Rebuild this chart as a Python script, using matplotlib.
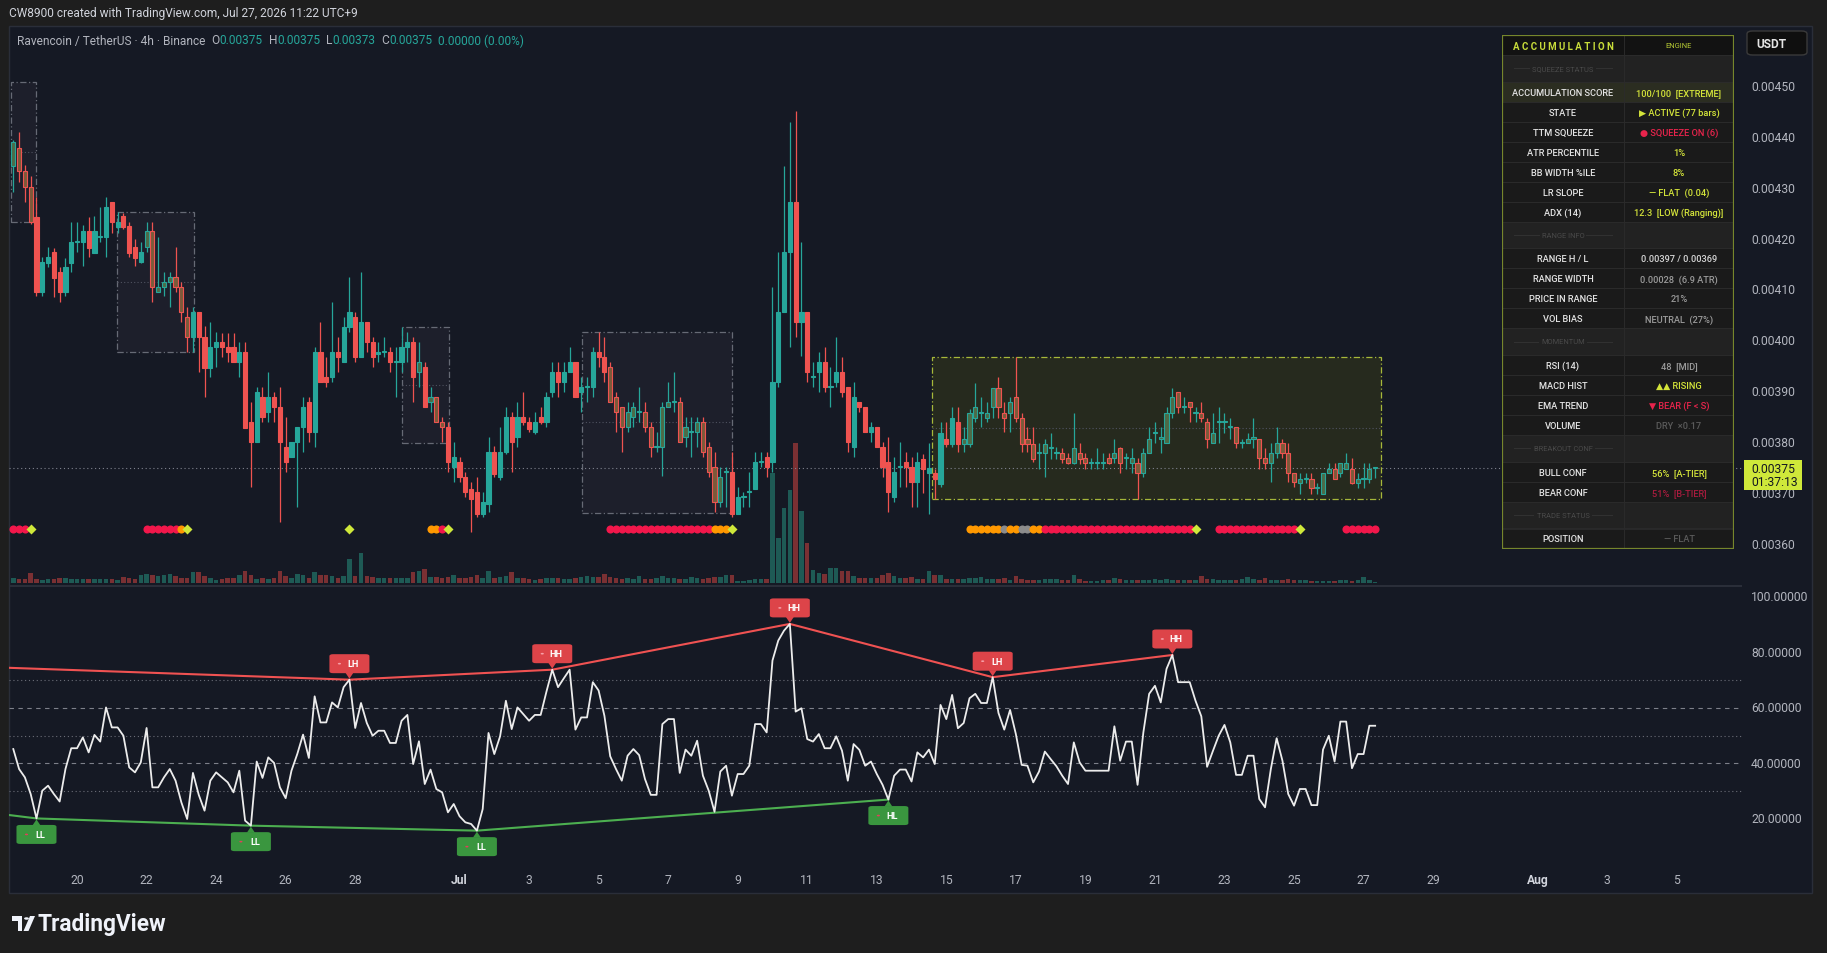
import matplotlib
matplotlib.use('Agg')
import numpy as np
import matplotlib.pyplot as plt
from matplotlib.patches import Rectangle, Polygon, Circle, FancyBboxPatch

plt.rcParams['font.family'] = ['Roboto', 'DejaVu Sans']

W, H = 1827, 954
BG = '#151924'
FIG_BG = '#1e1e1e'
TEAL = '#26a69a'
RED = '#ef5350'
LIME = '#d4e43a'
AXTXT = '#b2b5be'

# RVN/USDT 4h candles, prices in units of 0.00001 USDT (bar 1 = Jun 18 05:00)
opens = [434.3, 438.0, 433.3, 430.2, 424.4, 409.6, 415.3, 417.4, 413.5, 409.6,
         415.3, 419.4, 419.4, 421.5, 417.3, 420.4, 420.4, 427.2, 422.3, 424.5,
         422.5, 418.4, 415.5, 418.4, 421.5, 409.6, 410.5, 411.5, 412.5, 410.5,
         404.6, 400.7, 405.6, 400.7, 394.6, 398.8, 399.7, 398.8, 398.8, 395.8,
         397.8, 384.0, 380.1, 388.9, 386.0, 388.9, 387.0, 379.1, 377.1, 380.1,
         383.0, 388.0, 382.0, 397.8, 392.9, 392.9, 397.8, 395.8, 402.7, 404.6,
         396.8, 403.7, 399.7, 397.5, 397.8, 397.8, 395.8, 395.8, 398.8, 399.7,
         393.8, 394.8, 388.0, 389.0, 384.0, 383.0, 375.2, 376.2, 373.2, 370.9,
         370.3, 366.0, 368.0, 378.1, 373.2, 378.1, 385.0, 381.1, 385.0, 384.0,
         382.1, 385.0, 384.0, 389.9, 393.8, 391.9, 393.8, 395.8, 389.9, 390.9,
         390.9, 397.8, 396.8, 394.8, 388.9, 387.0, 383.0, 385.0, 386.0, 386.0,
         383.0, 379.1, 379.1, 387.0, 388.0, 388.0, 381.1, 382.1, 382.1, 384.0,
         379.1, 375.2, 368.3, 374.2, 374.2, 366.0, 369.3, 370.3, 370.9, 376.2,
         377.1, 376.2, 391.9, 405.6, 417.4, 427.2, 403.7, 405.6, 392.9, 393.8,
         395.8, 390.9, 391.9, 393.8, 390.9, 379.1, 388.0, 387.0, 382.1, 383.0,
         379.1, 376.2, 369.3, 375.2, 376.2, 375.2, 372.2, 376.8, 374.0, 374.0,
         371.8, 380.8, 379.7, 384.0, 379.7, 379.7, 384.9, 385.9, 384.9, 386.9,
         390.8, 385.9, 385.9, 388.9, 384.9, 380.8, 379.7, 377.9, 377.9, 378.9,
         377.9, 377.9, 376.9, 375.9, 377.9, 376.9, 375.9, 375.9, 375.9, 376.9,
         376.9, 378.9, 376.9, 375.9, 375.9, 374.0, 377.9, 381.9, 380.8, 379.9,
         385.9, 389.9, 386.9, 387.9, 385.9, 385.9, 384.0, 379.9, 384.0, 384.0,
         383.0, 383.0, 379.9, 379.9, 380.8, 380.8, 376.9, 375.9, 377.9, 379.9,
         377.9, 374.0, 372.0, 372.9, 372.9, 371.0, 369.9, 374.0, 374.9, 374.0,
         374.9, 374.9, 372.0, 372.9, 372.9, 375.0]
highs = [439.5, 441.1, 434.5, 432.5, 428.2, 416.4, 418.4, 418.3, 414.5, 416.3,
         423.3, 423.3, 422.8, 424.3, 424.6, 426.3, 428.2, 427.3, 425.3, 425.1,
         423.3, 420.0, 419.4, 423.3, 423.3, 420.4, 413.5, 413.5, 418.4, 411.5,
         406.6, 406.6, 405.6, 403.0, 403.7, 401.7, 401.6, 401.6, 401.6, 399.7,
         399.7, 388.0, 390.9, 390.9, 393.8, 389.9, 390.9, 385.0, 380.1, 383.0,
         388.9, 388.9, 398.8, 403.7, 396.8, 407.6, 400.7, 404.6, 412.5, 405.6,
         413.5, 403.7, 400.7, 399.7, 400.7, 398.8, 398.8, 402.7, 401.7, 400.7,
         399.7, 395.8, 390.9, 389.0, 385.0, 384.0, 380.1, 377.1, 374.2, 372.2,
         373.2, 370.3, 381.1, 379.4, 383.0, 387.0, 386.0, 388.0, 389.9, 385.0,
         386.0, 387.0, 389.9, 395.8, 395.8, 395.8, 398.8, 395.8, 392.9, 392.9,
         398.8, 401.7, 400.7, 395.8, 389.9, 387.0, 388.0, 388.0, 390.9, 388.0,
         384.0, 382.1, 388.0, 391.9, 393.8, 388.9, 385.0, 385.0, 385.0, 385.0,
         380.1, 378.1, 375.2, 375.2, 378.1, 371.2, 370.3, 374.2, 378.1, 378.1,
         378.1, 410.5, 417.4, 434.4, 443.0, 445.2, 419.4, 405.6, 395.8, 397.8,
         398.8, 394.8, 400.7, 396.8, 390.9, 391.9, 388.0, 387.0, 384.0, 383.0,
         380.1, 381.1, 377.1, 380.1, 378.1, 377.1, 378.1, 377.8, 380.0, 374.9,
         384.0, 384.0, 386.9, 386.9, 383.0, 386.6, 391.8, 388.9, 387.9, 390.8,
         392.8, 387.9, 388.9, 396.9, 385.9, 383.0, 383.0, 380.0, 380.8, 381.9,
         379.1, 378.9, 377.9, 385.9, 379.9, 377.9, 376.9, 378.9, 377.9, 377.9,
         380.8, 379.1, 377.9, 378.9, 376.9, 378.9, 383.0, 384.0, 383.0, 386.9,
         390.8, 389.9, 388.9, 387.9, 386.9, 387.9, 384.9, 385.9, 386.9, 385.9,
         384.9, 383.0, 380.8, 381.9, 384.9, 380.8, 378.9, 379.9, 383.0, 380.8,
         379.9, 374.0, 374.0, 374.0, 374.0, 372.0, 374.0, 375.9, 375.9, 375.9,
         377.9, 376.9, 374.0, 375.9, 375.9, 375.0]
lows = [429.3, 431.2, 427.2, 423.0, 408.8, 408.8, 414.5, 408.7, 407.6, 408.8,
        413.6, 417.4, 414.7, 416.4, 417.3, 419.4, 416.4, 421.3, 421.3, 422.0,
        416.4, 414.7, 415.4, 417.4, 407.6, 409.6, 408.8, 406.6, 409.6, 403.7,
        397.8, 397.8, 393.8, 388.9, 392.9, 394.8, 396.8, 395.8, 395.8, 392.9,
        382.9, 371.2, 380.1, 384.0, 384.0, 384.0, 364.4, 374.2, 377.1, 367.3,
        378.1, 380.1, 379.1, 391.9, 390.9, 391.9, 393.8, 395.8, 401.7, 395.8,
        396.8, 397.8, 394.8, 395.8, 396.8, 393.8, 388.9, 393.8, 395.8, 388.0,
        390.9, 387.0, 386.0, 384.0, 380.1, 374.2, 372.2, 372.2, 369.3, 362.4,
        365.4, 365.4, 366.3, 373.2, 372.6, 377.8, 374.2, 379.1, 383.4, 382.1,
        381.7, 383.7, 383.0, 388.9, 388.9, 389.9, 393.8, 388.9, 386.0, 388.0,
        388.9, 394.8, 391.9, 388.0, 382.1, 378.1, 382.1, 383.0, 384.0, 382.1,
        377.1, 378.1, 373.5, 387.0, 386.0, 380.1, 379.1, 377.1, 379.1, 377.1,
        373.2, 366.3, 367.3, 367.3, 365.4, 366.0, 367.3, 367.3, 370.9, 375.2,
        373.2, 374.2, 390.9, 405.6, 398.8, 400.7, 397.1, 391.9, 390.9, 389.9,
        389.9, 387.0, 390.9, 388.9, 378.1, 377.1, 386.0, 382.1, 380.1, 379.1,
        373.2, 366.3, 368.3, 371.2, 371.2, 367.3, 367.3, 370.0, 366.0, 368.9,
        371.2, 379.1, 379.1, 378.1, 378.1, 379.1, 384.0, 383.0, 384.0, 384.9,
        384.9, 382.0, 382.0, 384.0, 378.1, 378.1, 376.1, 374.9, 373.2, 376.8,
        376.8, 375.9, 375.8, 375.8, 375.8, 374.9, 374.9, 374.9, 374.9, 375.8,
        375.9, 374.0, 374.9, 374.0, 368.9, 373.2, 377.9, 379.9, 377.9, 379.9,
        384.9, 385.9, 385.9, 384.0, 384.0, 384.0, 378.9, 379.9, 379.9, 381.9,
        380.8, 378.9, 378.9, 379.9, 378.9, 374.9, 374.9, 372.2, 376.9, 376.9,
        372.2, 371.2, 369.9, 372.0, 369.9, 369.9, 369.9, 374.0, 372.9, 373.2,
        374.9, 371.8, 371.0, 371.0, 372.0, 373.0]
closes = [439.0, 433.3, 430.2, 423.3, 409.6, 415.5, 416.4, 412.4, 409.6, 414.5,
          419.4, 419.5, 421.5, 418.3, 421.5, 420.6, 426.3, 423.3, 423.3, 422.3,
          417.3, 416.3, 417.4, 421.5, 410.5, 410.5, 411.5, 412.5, 410.5, 405.6,
          400.7, 405.6, 400.7, 394.6, 398.8, 399.7, 398.8, 397.8, 395.8, 397.8,
          382.9, 380.1, 389.9, 385.0, 388.9, 387.0, 380.1, 376.2, 380.1, 383.0,
          387.0, 382.0, 397.8, 391.9, 391.9, 397.8, 396.8, 402.7, 405.6, 396.8,
          403.7, 399.7, 396.8, 397.8, 397.9, 395.8, 395.9, 398.8, 399.7, 392.9,
          395.8, 387.0, 389.0, 384.0, 383.0, 376.2, 377.1, 373.2, 370.3, 369.0,
          366.0, 368.3, 378.1, 373.9, 378.1, 385.0, 380.1, 385.0, 384.0, 382.7,
          384.0, 384.0, 388.9, 393.8, 391.9, 393.8, 395.8, 388.9, 390.9, 391.0,
          397.8, 396.8, 393.8, 388.0, 386.0, 383.0, 386.0, 387.0, 386.1, 383.0,
          379.1, 379.2, 387.0, 388.0, 388.1, 380.1, 383.0, 382.2, 384.0, 378.1,
          374.2, 368.3, 373.2, 374.3, 366.0, 369.3, 369.4, 370.4, 376.2, 376.3,
          375.2, 391.9, 405.6, 417.4, 427.2, 403.7, 405.6, 393.8, 393.0, 395.8,
          390.9, 391.0, 393.8, 389.9, 380.1, 388.9, 387.0, 382.1, 383.0, 379.1,
          375.2, 370.3, 374.2, 375.3, 375.2, 372.2, 376.2, 374.8, 375.0, 372.8,
          381.9, 379.7, 384.9, 379.7, 380.8, 385.9, 386.9, 386.0, 385.9, 390.8,
          386.9, 384.9, 387.9, 384.9, 379.7, 379.7, 376.8, 378.0, 379.7, 379.0,
          378.0, 376.8, 375.9, 378.9, 376.8, 375.9, 376.0, 376.0, 376.0, 375.9,
          377.9, 375.9, 377.0, 376.9, 374.0, 377.9, 380.8, 382.0, 380.9, 385.9,
          388.9, 386.9, 387.0, 386.9, 386.0, 384.9, 380.8, 381.9, 384.1, 384.1,
          383.1, 379.9, 380.0, 380.8, 380.9, 376.9, 375.9, 377.9, 379.9, 377.9,
          374.0, 372.2, 372.9, 373.0, 371.0, 371.1, 374.0, 374.9, 372.9, 375.9,
          375.9, 372.0, 372.9, 373.0, 374.9, 375.0]
volumes = [5, 4, 4, 10, 4, 3, 4, 4, 5, 5,
           4, 4, 4, 4, 4, 4, 4, 4, 3, 6,
           5, 4, 8, 9, 8, 7, 8, 9, 7, 5,
           5, 11, 11, 7, 5, 3, 4, 5, 5, 8,
           12, 8, 4, 5, 4, 5, 12, 7, 5, 9,
           8, 5, 11, 8, 8, 7, 5, 7, 24, 7,
           30, 7, 6, 5, 5, 5, 5, 5, 5, 11,
           12, 14, 6, 6, 5, 6, 8, 5, 5, 6,
           8, 5, 12, 5, 6, 7, 11, 5, 5, 4,
           3, 4, 5, 5, 5, 4, 4, 5, 6, 7,
           6, 6, 9, 6, 5, 4, 5, 4, 7, 4,
           4, 5, 7, 5, 5, 4, 4, 6, 5, 4,
           5, 6, 6, 8, 8, 2, 2, 3, 4, 4,
           4, 110, 45, 75, 93, 140, 72, 40, 13, 10,
           9, 15, 15, 12, 12, 7, 5, 5, 5, 5,
           8, 10, 7, 5, 5, 6, 4, 4, 12, 8,
           8, 4, 4, 4, 4, 5, 5, 6, 4, 4,
           4, 5, 3, 7, 4, 3, 3, 3, 4, 4,
           4, 3, 3, 8, 4, 2, 2, 2, 3, 3,
           5, 4, 3, 3, 3, 3, 3, 4, 3, 4,
           3, 3, 3, 3, 3, 7, 4, 4, 3, 3,
           3, 3, 4, 6, 4, 3, 5, 3, 3, 3,
           4, 3, 3, 3, 2, 2, 2, 2, 2, 3,
           3, 2, 3, 6, 3, 1]
rsi = [45.2, 38.0, 35.0, 29.0, 20.2, 30.2, 32.0, 29.0, 26.3, 38.0,
       45.5, 45.5, 49.4, 44.0, 50.3, 47.9, 60.2, 53.0, 53.0, 50.0,
       38.6, 36.8, 40.4, 52.8, 31.4, 31.4, 35.0, 38.0, 33.8, 26.0,
       20.0, 36.6, 28.7, 23.0, 33.8, 36.8, 35.0, 33.2, 29.6, 37.4,
       19.4, 17.6, 40.7, 34.8, 42.2, 40.2, 31.4, 27.5, 37.4, 43.4,
       50.4, 42.0, 64.2, 54.8, 54.8, 62.0, 60.2, 67.5, 70.2, 52.8,
       61.8, 54.6, 50.0, 51.8, 51.8, 47.4, 47.4, 55.4, 57.5, 39.8,
       48.0, 32.6, 37.8, 30.8, 29.6, 22.4, 25.4, 21.0, 18.8, 18.2,
       15.8, 23.6, 51.0, 43.4, 49.8, 62.6, 52.4, 60.2, 57.8, 55.4,
       57.5, 57.5, 65.9, 73.8, 67.5, 70.7, 73.8, 52.2, 56.6, 56.6,
       69.3, 66.3, 57.2, 42.6, 38.0, 33.8, 42.8, 45.2, 43.0, 34.4,
       28.7, 28.7, 54.2, 56.0, 56.0, 36.6, 45.0, 42.8, 48.2, 35.6,
       30.2, 22.6, 37.1, 39.2, 28.4, 36.2, 36.2, 39.2, 54.2, 54.2,
       51.2, 77.1, 84.3, 87.9, 90.3, 58.7, 59.9, 48.8, 47.9, 50.6,
       45.5, 45.5, 49.8, 44.6, 33.8, 47.0, 44.9, 39.2, 40.7, 36.2,
       32.3, 27.0, 35.6, 37.8, 37.8, 33.5, 44.0, 42.2, 45.0, 39.8,
       61.1, 56.0, 64.7, 52.7, 54.6, 63.5, 65.1, 61.8, 61.8, 71.1,
       58.2, 52.2, 59.3, 50.6, 39.5, 39.2, 33.2, 37.1, 44.3, 41.6,
       39.0, 35.6, 32.6, 47.6, 40.4, 37.4, 37.4, 37.4, 37.4, 37.4,
       53.4, 41.0, 47.9, 47.9, 32.3, 51.2, 65.1, 68.0, 62.0, 74.1,
       79.1, 69.3, 69.3, 69.3, 62.6, 57.0, 38.8, 44.5, 50.0, 53.9,
       47.6, 35.9, 35.9, 42.8, 42.8, 27.2, 24.2, 38.0, 49.1, 41.0,
       29.0, 24.8, 30.8, 30.8, 25.0, 25.0, 45.0, 50.0, 40.7, 55.1,
       55.1, 38.3, 43.4, 43.4, 53.6, 53.6]

# indicator overlays
squeeze_ranges = [(1, 4), (24, 31), (71, 71), (73, 75), (104, 123), (165, 235)]
box_start = [0.6, 18.9, 68.0, 99.1, 159.5]
box_end = [5.0, 32.1, 76.1, 125.0, 237.0]
box_top = [450.8, 425.3, 402.7, 401.7, 396.9]
box_bot = [423.3, 397.8, 380.0, 366.2, 368.9]
dot_segments = [(1, 3, 'red'), (4, 4, 'diamond'), (24, 29, 'red'), (30, 30, 'orange'),
                (31, 31, 'diamond'), (59, 59, 'diamond'), (73, 74, 'orange'), (75, 75, 'red'),
                (76, 76, 'diamond'), (104, 121, 'red'), (122, 124, 'orange'), (125, 125, 'diamond'),
                (166, 171, 'orange'), (172, 172, 'gray'), (173, 174, 'orange'), (175, 176, 'gray'),
                (177, 178, 'orange'), (179, 204, 'red'), (205, 205, 'diamond'),
                (209, 222, 'red'), (223, 223, 'diamond'), (231, 236, 'red')]
pivot_high_bars = [0, 59, 94, 135, 170, 201]
pivot_high_vals = [74.5, 70.2, 73.8, 90.3, 71.1, 79.1]
pivot_high_text = [None, 'LH', 'HH', 'HH', 'LH', 'HH']
pivot_low_bars = [0, 5, 42, 81, 152]
pivot_low_vals = [21.5, 20.2, 17.6, 15.8, 27.0]
pivot_low_text = [None, 'LL', 'LL', 'LL', 'HL']

price_ticks = [360, 370, 380, 390, 400, 410, 420, 430, 440, 450]
rsi_ticks = [20, 40, 60, 80, 100]
tick_day = [0, 2, 4, 6, 8, 11, 13, 15, 17, 19, 21, 23, 25, 27, 29, 31, 33, 35, 37, 39, 42, 44, 46]
tick_text = ['20', '22', '24', '26', '28', 'Jul', '3', '5', '7', '9', '11', '13', '15', '17',
             '19', '21', '23', '25', '27', '29', 'Aug', '3', '5']
first_day_bar = 12
bars_per_day = 6
last_price = 375.0

table_rows = [
    ('section', 'SQUEEZE STATUS', '', None),
    ('hl', 'ACCUMULATION SCORE', '100/100  [EXTREME]', LIME),
    ('row', 'STATE', '\u25B6 ACTIVE (77 bars)', LIME),
    ('row', 'TTM SQUEEZE', '\u25CF SQUEEZE ON (6)', '#e8244c'),
    ('row', 'ATR PERCENTILE', '1%', LIME),
    ('row', 'BB WIDTH %ILE', '8%', LIME),
    ('row', 'LR SLOPE', '\u2014 FLAT  (0.04)', LIME),
    ('row', 'ADX (14)', '12.3  [LOW (Ranging)]', LIME),
    ('section', 'RANGE INFO', '', None),
    ('row', 'RANGE H / L', '0.00397 / 0.00369', '#d6d6d6'),
    ('row', 'RANGE WIDTH', '0.00028  (6.9 ATR)', '#9a9a9a'),
    ('row', 'PRICE IN RANGE', '21%', '#9a9a9a'),
    ('row', 'VOL BIAS', 'NEUTRAL  (27%)', '#9a9a9a'),
    ('section', 'MOMENTUM', '', None),
    ('row', 'RSI (14)', '48  [MID]', '#9a9a9a'),
    ('row', 'MACD HIST', '\u25B2\u25B2 RISING', LIME),
    ('row', 'EMA TREND', '\u25BC BEAR (F < S)', '#e8244c'),
    ('row', 'VOLUME', 'DRY  \u00D70.17', '#5a5a5a'),
    ('section', 'BREAKOUT CONF', '', None),
    ('row', 'BULL CONF', '56%  [A-TIER]', LIME),
    ('row', 'BEAR CONF', '51%  [B-TIER]', '#a81c3e'),
    ('section', 'TRADE STATUS', '', None),
    ('row', 'POSITION', '\u2014 FLAT', '#5a5a5a'),
]

# ---------------------------------------------------------------
fig = plt.figure(figsize=(W / 100, H / 100), dpi=100)
fig.patch.set_facecolor(FIG_BG)


def axes_px(x0, y0, x1, y1, **kw):
    return fig.add_axes([x0 / W, 1 - y1 / H, (x1 - x0) / W, (y1 - y0) / H], **kw)


def fig_rect(x0, y0, x1, y1, **kw):
    fig.add_artist(Rectangle((x0 / W, 1 - y1 / H), (x1 - x0) / W, (y1 - y0) / H,
                             transform=fig.transFigure, **kw))


fig_rect(9, 27, 1812, 894, fc=BG, ec='#2a2e39', lw=1, zorder=-10)
fig.text(9 / W, 1 - 13 / H, 'CW8900 created with TradingView.com, Jul 27, 2026 11:22 UTC+9',
         color='#d1d4dc', fontsize=8.6, va='center', ha='left')

XLIM = (0.258, 299.3)
bars = np.arange(1, len(closes) + 1)
o = np.array(opens); c = np.array(closes); hi = np.array(highs); lo = np.array(lows)
up = c >= o

# volume (behind price)
axv = axes_px(9, 27, 1742, 584)
axv.set_xlim(*XLIM); axv.set_ylim(0, 557); axv.axis('off')
axv.bar(bars, volumes, width=0.78, color=np.where(up, '#1e5a55', '#7a3033'), zorder=1)

ax = axes_px(9, 27, 1742, 586)
ax.set_xlim(*XLIM); ax.set_ylim(352.0, 461.9)
ax.patch.set_alpha(0); ax.axis('off')

# accumulation boxes
for i in range(len(box_start)):
    active = i == len(box_start) - 1
    ax.add_patch(Rectangle((box_start[i], box_bot[i]), box_end[i] - box_start[i],
                           box_top[i] - box_bot[i],
                           fc='#262a1e' if active else '#1d1f2b',
                           ec='#a6b83a' if active else '#666a75',
                           lw=0.9, ls=(0, (5, 2, 1, 2)), zorder=1))
    mid = (box_top[i] + box_bot[i]) / 2
    ax.plot([box_start[i], box_end[i]], [mid, mid], color='#4f5260', lw=0.8, ls=(0, (1, 2)), zorder=1)

ax.axhline(last_price, color='#80838f', lw=0.8, ls=(0, (1, 2.5)), zorder=1)

sq = np.zeros(len(bars), dtype=bool)
for a, b in squeeze_ranges:
    sq[a - 1:b] = True
edge = np.where(up, TEAL, RED)
face = np.where(sq, np.where(up, '#4d6a47', '#7b5a3a'), edge)
ax.vlines(bars, lo, hi, colors=edge, lw=0.9, zorder=3)
body_h = np.maximum(np.abs(c - o), 0.2)
ax.bar(bars, body_h, bottom=np.minimum(o, c), width=0.72, color=face, edgecolor=edge,
       linewidth=0.8, zorder=4)

# squeeze dots
dot_colors = {'red': '#f2174b', 'orange': '#ff9800', 'gray': '#8c8c8c'}
for a, b, kind in dot_segments:
    xs = np.arange(a, b + 1)
    if kind == 'diamond':
        ax.scatter(xs, np.full(len(xs), 363.0), marker='D', s=26, color='#cfe83a', zorder=6, lw=0)
    else:
        ax.scatter(xs, np.full(len(xs), 363.0), marker='o', s=34, color=dot_colors[kind], zorder=5, lw=0)

# price scale labels
ytr = ax.get_yaxis_transform()
for p in price_ticks:
    ax.text(1.0052, p, f'{p / 1e5:.5f}', transform=ytr, color=AXTXT, fontsize=8.7,
            va='center', ha='left', clip_on=False)
ax.add_patch(Rectangle((1.0012, 370.7), 0.0334, 5.9, transform=ytr, fc='#cfe83a', ec='none',
                       clip_on=False, zorder=8))
ax.text(1.0052, last_price, f'{last_price / 1e5:.5f}', transform=ytr, color='#131722', fontsize=8.7,
        va='center', ha='left', clip_on=False, zorder=9)
ax.text(1.0052, 372.3, '01:37:13', transform=ytr, color='#131722', fontsize=8.7,
        va='center', ha='left', clip_on=False, zorder=9)

# legend line
r = fig.canvas.get_renderer()
legend_parts = [('Ravencoin / TetherUS \u00B7 4h \u00B7 Binance  ', AXTXT), ('O', AXTXT), ('0.00375', TEAL),
                ('  H', AXTXT), ('0.00375', TEAL), ('  L', AXTXT), ('0.00373', TEAL),
                ('  C', AXTXT), ('0.00375', TEAL), ('  0.00000 (0.00%)', TEAL)]
xpos = 17
for txt, col in legend_parts:
    t = fig.text(xpos / W, 1 - 41 / H, txt, color=col, fontsize=8.6, va='center', ha='left')
    xpos += t.get_window_extent(r).width

# USDT box
fig.add_artist(FancyBboxPatch((1747 / W, 1 - 56 / H), 60 / W, 24 / H, transform=fig.transFigure,
                              boxstyle='round,pad=0,rounding_size=0.003', fc='#0f0f0f', ec='#3a3a3a', lw=1))
fig.text(1756 / W, 1 - 44 / H, 'USDT', color='#e6e6e6', fontsize=8.6, fontweight='bold', va='center')

# ---------------------------------------------------------------
fig_rect(9, 586, 1742, 587.5, fc='#2a2e39', ec='none')
ax2 = axes_px(9, 588, 1742, 862)
ax2.set_xlim(*XLIM); ax2.set_ylim(4.86, 103.6)
ax2.patch.set_alpha(0); ax2.axis('off')
for lvl in (70, 50, 30):
    ax2.axhline(lvl, color='#6b6e78', lw=0.8, ls=(0, (1, 2.5)))
for lvl in (60, 40):
    ax2.axhline(lvl, color='#7d808a', lw=0.8, ls=(0, (4, 4)))
ax2.plot(pivot_high_bars, pivot_high_vals, color='#f05252', lw=1.5, zorder=3)
ax2.plot(pivot_low_bars, pivot_low_vals, color='#4caf50', lw=1.5, zorder=3)
ax2.plot(bars, rsi, color='#ececec', lw=1.3, zorder=4)

ytr2 = ax2.get_yaxis_transform()
for v in rsi_ticks:
    ax2.text(1.0052, v, f'{v:.5f}', transform=ytr2, color=AXTXT, fontsize=8.7,
             va='center', ha='left', clip_on=False)

fig.canvas.draw()


def pivot_label(b, v, text, col, above, dotcol):
    px, py = ax2.transData.transform((b, v))
    w, h = 40, 19
    if above:
        y0 = py + 6.5
        tri = [(px - 4, y0 + 0.5), (px + 4, y0 + 0.5), (px, py + 1)]
    else:
        y0 = py - 6.5 - h
        tri = [(px - 4, y0 + h - 0.5), (px + 4, y0 + h - 0.5), (px, py - 1)]
    fig.add_artist(FancyBboxPatch(((px - w / 2) / W, y0 / H), w / W, h / H, transform=fig.transFigure,
                                  boxstyle='round,pad=0,rounding_size=0.002', fc=col, ec='none', zorder=6))
    fig.add_artist(Polygon([(x / W, y / H) for x, y in tri], closed=True, transform=fig.transFigure,
                           fc=col, ec='none', zorder=6))
    fig.add_artist(Circle(((px - 10) / W, (y0 + h / 2) / H), 1.6 / W, transform=fig.transFigure,
                          fc=dotcol, ec='none', zorder=7))
    fig.text((px + 4) / W, (y0 + h / 2) / H, text, color='white', fontsize=6.6, fontweight='bold',
             ha='center', va='center', zorder=8)


for b, v, t in zip(pivot_high_bars, pivot_high_vals, pivot_high_text):
    if t:
        pivot_label(b, v, t, '#dd4449', True, '#f7a0a8')
for b, v, t in zip(pivot_low_bars, pivot_low_vals, pivot_low_text):
    if t:
        pivot_label(b, v, t, '#3a963f', False, '#e0405a')

# time axis
xtr = ax2.get_xaxis_transform()
for d, lab in zip(tick_day, tick_text):
    bx = first_day_bar + bars_per_day * d
    bold = lab.isalpha()
    ax2.text(bx, -0.066, lab, transform=xtr, color='#d1d4dc' if bold else AXTXT, fontsize=8.7,
             fontweight='bold' if bold else 'normal', ha='center', va='center', clip_on=False)

# ---------------------------------------------------------------
# status table
tab = axes_px(1502, 36, 1734, 550)
tab.set_xlim(0, 232); tab.set_ylim(514, 0); tab.axis('off')
tab.set_zorder(10)
split = 122
tab.add_patch(Rectangle((0, 0), split, 20, fc='#121212', ec='#2c2c2c', lw=0.6))
tab.add_patch(Rectangle((split, 0), 232 - split, 20, fc='#121212', ec='#2c2c2c', lw=0.6))
tab.text(split / 2, 10.5, 'A C C U M U L A T I O N', color='#c8dc3a', fontsize=7,
         fontweight='bold', ha='center', va='center')
tab.text(split + (232 - split) / 2, 10.5, 'ENGINE', color='#b8cc34', fontsize=5.4,
         ha='center', va='center')
y = 20
for kind, left, right, rcol in table_rows:
    h = 26.7 if kind == 'section' else 20
    if kind == 'section':
        bg = '#222222'
    elif kind == 'hl':
        bg = '#2b2d21'
    else:
        bg = '#1a1a1a'
    tab.add_patch(Rectangle((0, y), split, h, fc=bg, ec='#2c2c2c', lw=0.6))
    tab.add_patch(Rectangle((split, y), 232 - split, h, fc=bg, ec='#2c2c2c', lw=0.6))
    if kind == 'section':
        tab.plot([12, split - 12], [y + h / 2, y + h / 2], color='#323232', lw=0.7)
        tab.text(split / 2, y + h / 2, left, color='#4a4a4a', fontsize=5.4, ha='center', va='center',
                 bbox=dict(fc=bg, ec='none', pad=1.5))
    else:
        tab.text(split / 2, y + h / 2 + 0.5, left, color='#e4e4e4', fontsize=6.7, fontweight='medium',
                 ha='center', va='center')
        tab.text(split + (232 - split) / 2, y + h / 2 + 0.5, right, color=rcol, fontsize=6.7,
                 fontweight='medium', ha='center', va='center')
    y += h
tab.add_patch(Rectangle((0, 0), 232, 514, fill=False, ec='#76862c', lw=1.6))

# ---------------------------------------------------------------
# TradingView mark
logo = '#f0f3fa'
fig_rect(12, 917, 22, 922, fc=logo, ec='none')
fig_rect(17.5, 917, 22, 932, fc=logo, ec='none')
fig.add_artist(Circle((26.5 / W, 1 - 919.5 / H), 2.4 / W, transform=fig.transFigure, fc=logo, ec='none'))
fig.add_artist(Polygon([(23.5 / W, 1 - 932 / H), (28.5 / W, 1 - 932 / H), (35 / W, 1 - 917 / H),
                        (30 / W, 1 - 917 / H)], closed=True, transform=fig.transFigure, fc=logo, ec='none'))
fig.text(38 / W, 1 - 925 / H, 'TradingView', color=logo, fontsize=16.3, fontweight='bold',
         ha='left', va='center')

fig.savefig('out.png', dpi=100, facecolor=fig.get_facecolor())
